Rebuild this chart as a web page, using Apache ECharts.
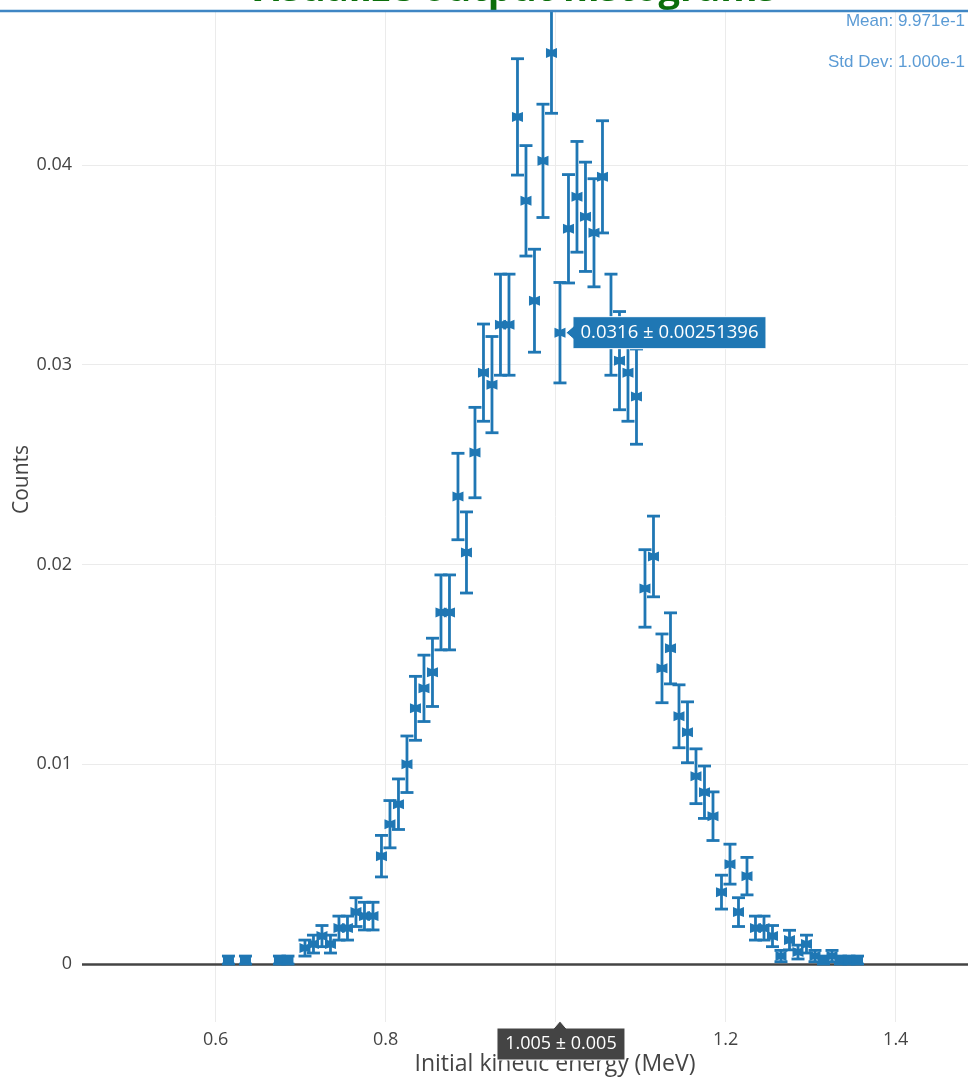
<!DOCTYPE html>
<html>
<head>
<meta charset="utf-8">
<title>Visualize output histograms</title>
<script src="https://cdn.jsdelivr.net/npm/echarts@6/dist/echarts.min.js"></script>
<style>
  html, body { margin: 0; padding: 0; background: #ffffff; }
  #chart { width: 968px; height: 1077px; }
</style>
</head>
<body>
<div id="chart"></div>
<script>
// Histogram of initial kinetic energy: bin centres (MeV) and raw entries per bin
const energies = [
  0.615, 0.635, 0.675, 0.685, 0.705, 0.715, 0.725, 0.735, 0.745, 0.755,
  0.765, 0.775, 0.785, 0.795, 0.805, 0.815, 0.825, 0.835, 0.845, 0.855,
  0.865, 0.875, 0.885, 0.895, 0.905, 0.915, 0.925, 0.935, 0.945, 0.955,
  0.965, 0.975, 0.985, 0.995, 1.005, 1.015, 1.025, 1.035, 1.045, 1.055,
  1.065, 1.075, 1.085, 1.095, 1.105, 1.115, 1.125, 1.135, 1.145, 1.155,
  1.165, 1.175, 1.185, 1.195, 1.205, 1.215, 1.225, 1.235, 1.245, 1.255,
  1.265, 1.275, 1.285, 1.295, 1.305, 1.315, 1.325, 1.335, 1.345, 1.355
];
const counts = [
  1, 1, 1, 1, 4, 5, 7, 5, 9, 9,
  13, 12, 12, 27, 35, 40, 50, 64, 69, 73,
  88, 88, 117, 103, 128, 148, 145, 160, 160, 212,
  191, 166, 201, 228, 158, 184, 192, 187, 183, 197,
  160, 151, 148, 142, 94, 102, 74, 79, 62, 58,
  47, 43, 37, 18, 25, 13, 22, 9, 9, 7,
  2, 6, 3, 5, 2, 1, 2, 1, 1, 1
];
const nEntries = 5000;          // total entries used for normalisation
const binHalfWidth = 0.005;     // half of the 0.01 MeV bin width

const xTicks = [0.6, 0.8, 1.0, 1.2, 1.4];
const yTicks = [0, 0.01, 0.02, 0.03, 0.04];
const statLines = ['Mean: 9.971e-1', 'Std Dev: 1.000e-1'];
const titleText = 'Visualize output histograms';
const xTitle = 'Initial kinetic energy (MeV)';
const yTitle = 'Counts';
const hoverEnergy = 1.005;      // bin whose hover labels are shown

const BLUE = '#1f77b4';
const FONT = '"Open Sans", "Liberation Sans", Arial, sans-serif';

// normalised value and Poisson error per bin
const points = energies.map((e, i) => [e, counts[i] / nEntries, Math.sqrt(counts[i]) / nEntries]);

function renderErrorPoint(params, api) {
  const x = api.value(0), y = api.value(1), err = api.value(2);
  const c = api.coord([x, y]);
  const lo = api.coord([x, y - err]);
  const hi = api.coord([x, y + err]);
  const cap = 6.5, mw = 5.5, mh = 5, notch = 2.2;
  const lineStyle = { stroke: BLUE, lineWidth: 2.8 };
  return {
    type: 'group',
    children: [
      { type: 'line', shape: { x1: c[0], y1: lo[1], x2: c[0], y2: hi[1] }, style: lineStyle },
      { type: 'line', shape: { x1: c[0] - cap, y1: lo[1], x2: c[0] + cap, y2: lo[1] }, style: lineStyle },
      { type: 'line', shape: { x1: c[0] - cap, y1: hi[1], x2: c[0] + cap, y2: hi[1] }, style: lineStyle },
      {
        type: 'polygon',
        shape: { points: [
          [c[0] - mw, c[1] - mh], [c[0], c[1] - mh + notch], [c[0] + mw, c[1] - mh],
          [c[0] + mw, c[1] + mh], [c[0], c[1] + mh - notch], [c[0] - mw, c[1] + mh]
        ] },
        style: { fill: BLUE }
      }
    ]
  };
}

const chart = echarts.init(document.getElementById('chart'), null, { renderer: 'canvas' });

chart.setOption({
  animation: false,
  backgroundColor: '#ffffff',
  grid: { left: 82, right: 0, top: 11, bottom: 55, containLabel: false, outerBoundsMode: 'none' },
  xAxis: {
    type: 'value',
    min: 0.4427,
    max: 1.485,
    name: xTitle,
    nameLocation: 'middle',
    nameGap: 31,
    nameMoveOverlap: false,
    nameTextStyle: { color: '#444', fontSize: 23, fontFamily: FONT, padding: [0, 0, 0, 60] },
    axisLine: { show: false },
    axisTick: { show: false, customValues: xTicks },
    axisLabel: {
      customValues: xTicks,
      color: '#444', fontSize: 18, fontFamily: FONT, margin: 9,
      formatter: v => String(v)
    },
    splitLine: { show: true, lineStyle: { color: '#ebebeb', width: 1 } }
  },
  yAxis: {
    type: 'value',
    min: -0.0029,
    max: 0.0477,
    name: yTitle,
    nameLocation: 'middle',
    nameGap: 49,
    nameRotate: 90,
    nameMoveOverlap: false,
    nameTextStyle: { color: '#444', fontSize: 21, fontFamily: FONT, padding: [0, 0, 0, 74] },
    axisLine: { show: false },
    axisTick: { show: false, customValues: yTicks },
    axisLabel: {
      customValues: yTicks,
      color: '#444', fontSize: 18, fontFamily: FONT, margin: 10,
      formatter: v => (v === 0 ? '0' : v.toFixed(2))
    },
    splitLine: { show: true, lineStyle: { color: '#ebebeb', width: 1 } }
  },
  series: [{
    type: 'custom',
    renderItem: renderErrorPoint,
    clip: true,
    encode: { x: 0, y: 1 },
    data: points,
    z: 3,
    markLine: {
      silent: true,
      symbol: ['none', 'none'],
      label: { show: false },
      lineStyle: { color: '#444', width: 2.5, type: 'solid' },
      data: [{ yAxis: 0 }],
      z: 2
    }
  }]
});

// hover labels for one bin, placed from its data position
const hi = energies.indexOf(hoverEnergy);
const hv = points[hi][1], he = points[hi][2];
const [px, py] = chart.convertToPixel({ gridIndex: 0 }, [hoverEnergy, hv]);
const bottomY = chart.convertToPixel({ yAxisIndex: 0 }, -0.0029);
const valueLabel = `${Number(hv.toPrecision(6))} \u00b1 ${Number(he.toPrecision(6))}`;
const energyLabel = `${hoverEnergy} \u00b1 ${binHalfWidth}`;

const graphics = [
  // page header rule across the top
  { type: 'line', z: 20, shape: { x1: 0, y1: 11, x2: 968, y2: 11 }, style: { stroke: '#3f86c4', lineWidth: 2.5 } },
  {
    type: 'text', z: 19, x: 511, y: -10,
    style: { text: titleText, fill: '#0b6e0b', font: 'bold 38px ' + FONT, align: 'center', verticalAlign: 'middle' }
  },
  {
    type: 'text', z: 21, x: 965, y: 21,
    style: { text: statLines[0], fill: '#5b9bd5', font: '17px "Liberation Sans", Arial, sans-serif', align: 'right', verticalAlign: 'middle' }
  },
  {
    type: 'text', z: 21, x: 965, y: 62,
    style: { text: statLines[1], fill: '#5b9bd5', font: '17px "Liberation Sans", Arial, sans-serif', align: 'right', verticalAlign: 'middle' }
  },
  // value hover label
  {
    type: 'polygon', z: 30,
    shape: { points: [
      [px + 6, py], [px + 13, py - 6], [px + 13, py - 16], [px + 206, py - 16],
      [px + 206, py + 16], [px + 13, py + 16], [px + 13, py + 6]
    ] },
    style: { fill: BLUE, stroke: '#ffffff', lineWidth: 1 }
  },
  {
    type: 'text', z: 31, x: px + 109.5, y: py,
    style: { text: valueLabel, fill: '#ffffff', font: '18.5px ' + FONT, align: 'center', verticalAlign: 'middle' }
  },
  // energy hover label under the axis
  {
    type: 'polygon', z: 30,
    shape: { points: [
      [px, bottomY - 1], [px + 6, bottomY + 6], [px + 65, bottomY + 6], [px + 65, bottomY + 38],
      [px - 63, bottomY + 38], [px - 63, bottomY + 6], [px - 6, bottomY + 6]
    ] },
    style: { fill: '#444444', stroke: '#ffffff', lineWidth: 1 }
  },
  {
    type: 'text', z: 31, x: px + 1, y: bottomY + 22,
    style: { text: energyLabel, fill: '#ffffff', font: '18px ' + FONT, align: 'center', verticalAlign: 'middle' }
  }
];

chart.setOption({ graphic: graphics });
</script>
</body>
</html>
